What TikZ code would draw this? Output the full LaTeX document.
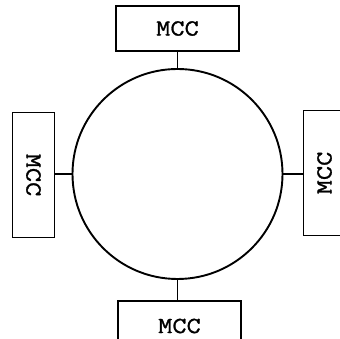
\documentclass[tikz,border=0pt]{standalone}
\usepackage{fontspec}
\newfontfamily\mccfont{Latin Modern Mono}[FakeStretch=1.2, FakeBold=1.2]
\usepackage{tikz}
\usetikzlibrary{positioning}

\begin{document}
\begin{tikzpicture}[x=1pt, y=1pt,
    ring/.style={circle, draw=black, line width=1.9pt, minimum size=210pt,
      inner sep=0pt, outer sep=0pt},
    box/.style={rectangle, draw=black, line width=1.7pt, inner sep=0pt,
      outer sep=0pt, font=\fontsize{23}{28}\selectfont\mccfont},
    flat/.style={box, minimum width=123pt, minimum height=45pt},
    tall/.style={box, minimum width=42pt, minimum height=125pt},
    link/.style={line width=1.7pt, black}
  ]
    \useasboundingbox (0,0) rectangle (340,339);
    \node[ring] (ring) at (177.5,165) {};
    \node[flat, above=18pt of ring] (mccN) {MCC};
    \node[flat, minimum height=50pt, below=22pt of ring, xshift=2pt] (mccS) {MCC};
    \node[tall, left=18pt of ring, yshift=-1pt] (mccW) {\rotatebox{-90}{MCC}};
    \node[tall, right=21pt of ring, yshift=1pt] (mccE) {\rotatebox{90}{MCC}};
    % stubs from the ring to each box
    \draw[link] (ring.north) -- (mccN.south -| ring.north);
    \draw[link] (ring.south) -- (mccS.north -| ring.south);
    \draw[link] (ring.west) -- (mccW.east |- ring.west);
    \draw[link] (ring.east) -- (mccE.west |- ring.east);
  \end{tikzpicture}
\end{document}
